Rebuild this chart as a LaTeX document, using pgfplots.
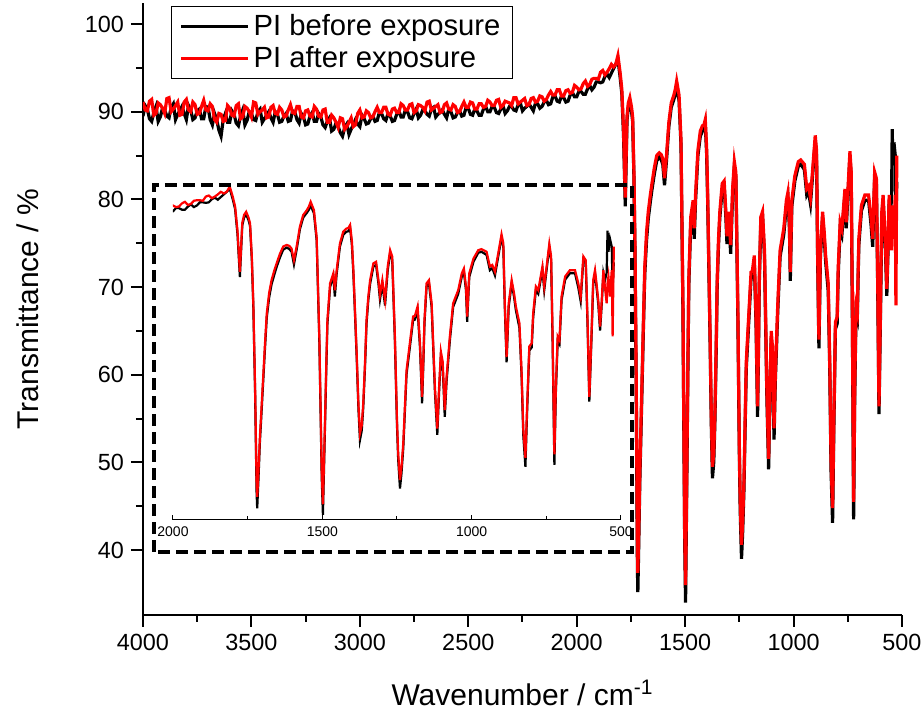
\documentclass[border=0pt]{standalone}
\usepackage{pgfplots}
\pgfplotsset{compat=1.18}
\usepackage{pgfplotstable}
\usepackage{fontspec}
\setmainfont{Liberation Sans}
\definecolor{spred}{RGB}{255,0,0}

% PI before exposure (black)
\pgfplotstableread{
nu T
4000 89.5
3990 90.7
3980 90.3
3970 89.2
3960 88.9
3950 89.9
3940 90.6
3930 88.9
3920 89.4
3910 90.4
3900 90.2
3890 89.5
3880 89.3
3870 90.5
3860 90.9
3850 89.1
3840 89.7
3830 90.1
3820 90.6
3810 89.8
3800 89.1
3790 90.7
3780 90.2
3770 89.1
3760 89.3
3750 90.1
3740 90.3
3730 89.2
3720 89.2
3710 90.6
3700 90.5
3690 89.1
3680 88.5
3670 89.8
3660 89.1
3650 87.9
3640 87.2
3630 89.1
3620 89.8
3610 88.8
3600 88.8
3590 90.1
3580 89.7
3570 88.7
3560 88.4
3550 89.5
3540 90.2
3530 88.5
3520 89.0
3510 90.0
3500 89.8
3490 89.1
3480 89.0
3470 90.0
3460 90.3
3450 88.8
3440 89.2
3430 89.6
3420 90.0
3410 89.3
3400 88.8
3390 90.0
3380 89.7
3370 88.8
3360 88.9
3350 89.5
3340 89.8
3330 88.9
3320 89.0
3310 90.1
3300 90.0
3290 89.1
3280 88.7
3270 89.8
3260 89.4
3250 88.5
3240 88.6
3230 89.5
3220 89.9
3210 88.9
3200 88.9
3190 89.8
3180 89.4
3170 88.5
3160 88.2
3150 88.9
3140 89.3
3130 87.8
3120 88.0
3110 88.7
3100 88.3
3090 87.6
3080 87.2
3070 88.2
3060 88.6
3050 87.4
3040 88.0
3030 88.5
3020 89.1
3010 88.6
3000 88.3
2990 89.6
2980 89.2
2970 88.6
2960 88.7
2950 89.2
2940 89.5
2930 88.9
2920 89.0
2910 89.9
2900 89.8
2890 89.2
2880 89.0
2870 89.8
2860 89.5
2850 88.9
2840 89.0
2830 89.7
2820 90.1
2810 89.4
2800 89.4
2790 90.2
2780 90.0
2770 89.3
2760 89.2
2750 89.8
2740 90.3
2730 89.3
2720 89.6
2710 90.2
2700 90.1
2690 89.7
2680 89.5
2670 90.3
2660 90.5
2650 89.4
2640 89.7
2630 89.9
2620 90.2
2610 89.7
2600 89.3
2590 90.3
2580 90.0
2570 89.3
2560 89.4
2550 89.9
2540 90.1
2530 89.5
2520 89.6
2510 90.5
2500 90.4
2490 89.7
2480 89.6
2470 90.3
2460 90.1
2450 89.6
2440 89.6
2430 90.3
2420 90.6
2410 90.0
2400 90.0
2390 90.6
2380 90.5
2370 89.9
2360 89.8
2350 90.3
2340 90.7
2330 89.8
2320 90.1
2310 90.6
2300 90.6
2290 90.2
2280 90.1
2270 90.8
2260 91.0
2250 90.1
2240 90.4
2230 90.6
2220 90.9
2210 90.5
2200 90.1
2190 91.0
2180 90.9
2170 90.4
2160 90.6
2150 91.1
2140 91.3
2130 90.8
2120 90.9
2110 91.7
2100 91.8
2090 91.2
2080 91.1
2070 91.8
2060 91.6
2050 91.1
2040 91.2
2030 91.9
2020 92.2
2010 91.7
2000 91.7
1990 92.3
1980 92.3
1970 92.0
1960 92.0
1950 92.6
1940 93.0
1930 92.5
1920 92.8
1910 93.4
1900 93.4
1890 93.3
1880 93.4
1870 94.0
1860 94.3
1850 93.9
1840 94.4
1830 94.9
1820 95.4
1810 96.0
1800 94.0
1792 92.1
1784 87.3
1776 79.2
1768 89.0
1762 90.5
1755 91.1
1747 90.0
1742 88.9
1736 82.4
1731 73.6
1725 57.0
1720 38.0
1718 35.2
1714 40.5
1709 47.8
1703 54.0
1698 59.3
1692 65.6
1686 71.5
1678 75.3
1670 77.8
1660 79.8
1653 81.1
1642 82.9
1631 84.4
1619 84.8
1610 84.5
1603 84.0
1595 81.6
1586 84.4
1575 88.3
1564 90.5
1552 91.4
1545 92.0
1539 92.8
1528 91.3
1519 86.2
1510 67.0
1502 41.0
1498 34.0
1494 43.5
1491 50.8
1487 61.0
1483 70.2
1474 77.3
1463 79.2
1458 75.5
1452 79.8
1441 85.0
1430 87.2
1420 87.8
1413 87.9
1407 88.5
1401 85.3
1396 79.8
1390 71.3
1385 64.0
1379 54.0
1374 48.2
1368 50.0
1363 54.3
1357 62.2
1352 70.3
1346 74.8
1340 77.9
1329 81.2
1320 81.5
1312 77.9
1307 74.9
1299 77.9
1290 73.8
1281 80.5
1273 83.7
1266 82.5
1257 67.0
1250 51.0
1246 44.5
1240 39.0
1235 41.8
1229 46.6
1224 53.0
1218 60.7
1207 65.8
1196 71.0
1190 71.1
1181 72.9
1173 65.8
1166 55.2
1162 62.1
1158 70.3
1151 77.4
1143 78.0
1134 73.5
1123 57.4
1115 49.2
1109 57.4
1103 64.2
1097 62.2
1090 52.6
1084 59.3
1073 67.1
1062 73.5
1045 76.0
1033 79.3
1026 80.2
1019 76.7
1015 70.7
1008 79.2
994 82.1
978 83.8
967 84.0
950 83.4
939 80.5
931 80.9
922 79.5
911 83.1
900 86.7
894 85.0
889 73.4
883 63.0
876 73.5
866 78.0
858 75.4
852 72.9
840 69.5
833 60.6
827 49.0
820 43.1
814 54.2
807 65.2
799 65.8
794 71.5
785 76.7
777 76.0
771 78.0
763 80.6
757 76.7
749 80.6
740 84.9
734 82.5
729 67.0
723 43.5
718 57.3
712 67.0
706 66.4
699 74.8
687 78.7
671 79.9
654 79.9
643 77.2
635 74.6
626 82.5
618 81.8
612 70.2
606 55.5
599 67.1
593 77.9
587 79.9
582 77.3
576 74.0
570 69.0
565 73.5
559 79.9
554 78.5
548 80.0
545 88.0
542 84.0
537 86.5
531 85.0
528 77.0
524 82.0
}\before

% PI after exposure (red)
\pgfplotstableread{
nu T
4000 91.1
3990 90.2
3980 90.1
3970 91.2
3960 91.4
3950 89.6
3940 89.8
3930 91.0
3920 90.8
3910 90.4
3900 89.8
3890 91.5
3880 91.6
3870 90.0
3860 90.3
3850 90.7
3840 91.1
3830 89.6
3820 89.7
3810 91.1
3800 91.4
3790 90.2
3780 90.0
3770 91.1
3760 90.8
3750 89.7
3740 89.8
3730 90.6
3720 91.3
3710 90.2
3700 90.1
3690 90.9
3680 90.6
3670 89.1
3660 88.8
3650 89.8
3640 89.7
3630 88.9
3620 89.0
3610 90.7
3600 90.4
3590 89.6
3580 89.5
3570 90.7
3560 90.9
3550 89.2
3540 89.4
3530 90.6
3520 90.4
3510 90.0
3500 89.4
3490 91.1
3480 91.0
3470 89.7
3460 90.0
3450 90.2
3440 90.5
3430 89.3
3420 89.4
3410 90.5
3400 90.7
3390 89.8
3380 89.7
3370 90.5
3360 90.2
3350 89.4
3340 89.5
3330 90.2
3320 90.8
3310 89.9
3300 89.8
3290 90.6
3280 90.6
3270 89.4
3260 89.3
3250 90.1
3240 90.2
3230 89.5
3220 89.4
3210 90.6
3200 90.3
3190 89.5
3180 89.4
3170 90.2
3160 90.3
3150 88.8
3140 88.8
3130 89.6
3120 89.3
3110 88.8
3100 88.2
3090 89.3
3080 89.2
3070 88.0
3060 88.3
3050 88.8
3040 89.3
3030 88.3
3020 88.5
3010 89.8
3000 90.2
2990 89.3
2980 89.4
2970 90.1
2960 89.9
2950 89.3
2940 89.4
2930 90.0
2920 90.5
2910 89.9
2900 89.9
2890 90.5
2880 90.5
2870 89.7
2860 89.6
2850 90.3
2840 90.4
2830 89.9
2820 89.9
2810 90.9
2800 90.7
2790 90.2
2780 90.2
2770 90.8
2760 90.9
2750 89.9
2740 90.1
2730 90.8
2720 90.7
2710 90.5
2700 90.1
2690 91.1
2680 91.2
2670 90.2
2660 90.4
2650 90.6
2640 90.8
2630 89.9
2620 90.0
2610 90.8
2600 91.0
2590 90.3
2580 90.2
2570 90.8
2560 90.6
2550 89.9
2540 90.0
2530 90.6
2520 91.1
2510 90.5
2500 90.5
2490 91.1
2480 91.0
2470 90.3
2460 90.3
2450 90.9
2440 90.9
2430 90.5
2420 90.6
2410 91.3
2400 91.1
2390 90.7
2380 90.7
2370 91.3
2360 91.4
2350 90.5
2340 90.7
2330 91.2
2320 91.1
2310 91.0
2300 90.7
2290 91.6
2280 91.6
2270 90.9
2260 91.1
2250 91.3
2240 91.5
2230 90.7
2220 90.8
2210 91.5
2200 91.6
2190 91.1
2180 91.2
2170 91.8
2160 91.7
2150 91.2
2140 91.4
2130 91.9
2120 92.3
2110 91.9
2100 91.9
2090 92.5
2080 92.5
2070 91.8
2060 91.8
2050 92.4
2040 92.5
2030 92.1
2020 92.2
2010 93.0
2000 92.8
1990 92.5
1980 92.6
1970 93.2
1960 93.5
1950 92.9
1940 93.1
1930 93.7
1920 93.8
1910 93.8
1900 93.7
1890 94.5
1880 94.7
1870 94.2
1860 94.5
1850 94.9
1840 95.4
1830 95.1
1820 95.4
1810 96.4
1800 94.5
1792 92.6
1784 88.0
1776 80.2
1768 89.5
1762 91.0
1755 91.6
1747 90.5
1742 89.4
1736 83.0
1731 74.2
1725 58.0
1720 40.0
1718 37.4
1714 42.0
1709 48.8
1703 55.0
1698 60.2
1692 66.5
1686 72.3
1678 76.2
1670 78.6
1660 80.6
1653 81.8
1642 83.6
1631 85.0
1619 85.3
1610 85.1
1603 84.6
1595 82.4
1586 85.0
1575 88.8
1564 91.0
1552 91.9
1545 92.6
1539 93.5
1528 91.9
1519 86.8
1510 67.8
1502 42.5
1498 36.0
1494 45.0
1491 52.0
1487 62.0
1483 71.0
1474 78.0
1463 79.9
1458 76.7
1452 80.5
1441 85.6
1430 87.8
1420 88.4
1413 88.5
1407 89.1
1401 86.0
1396 80.5
1390 72.0
1385 64.7
1379 55.0
1374 49.5
1368 51.0
1363 55.2
1357 63.0
1352 71.0
1346 75.5
1340 78.6
1329 81.8
1320 82.1
1312 78.6
1307 75.8
1299 78.6
1290 74.8
1281 81.2
1273 84.3
1266 83.1
1257 67.9
1250 52.0
1246 45.7
1240 40.6
1235 43.0
1229 47.6
1224 54.0
1218 61.5
1207 66.6
1196 71.7
1190 71.8
1181 73.6
1173 66.6
1166 56.4
1162 63.0
1158 71.0
1151 78.0
1143 78.6
1134 74.2
1123 58.3
1115 50.4
1109 58.3
1103 65.0
1097 63.1
1090 53.9
1084 60.2
1073 67.9
1062 74.2
1045 76.7
1033 79.9
1026 80.8
1019 77.4
1015 71.7
1008 79.9
994 82.7
978 84.3
967 84.5
950 84.0
939 81.2
931 81.5
922 80.2
911 83.7
900 87.3
894 85.6
889 74.2
883 64.0
876 74.2
866 78.6
858 76.1
852 73.6
840 70.4
833 61.5
827 50.1
820 44.8
814 55.2
807 66.0
799 66.6
794 72.3
785 77.4
777 76.7
771 78.6
763 81.2
757 77.4
749 81.2
740 85.5
734 83.1
729 67.9
723 45.5
718 58.3
712 67.9
706 67.2
699 75.5
687 79.3
671 80.5
654 80.5
643 78.0
635 75.5
626 83.1
618 82.4
612 71.0
606 56.4
599 67.9
593 78.6
587 80.5
582 78.0
576 74.8
570 69.8
565 74.2
559 80.5
554 77.4
548 74.2
545 78.0
542 79.3
537 75.5
531 80.5
528 67.9
524 85.0
}\after

\begin{document}
\begin{tikzpicture}
\useasboundingbox (-71.5pt,-48.5pt) rectangle (390pt,307.5pt);
\begin{axis}[
  at={(0pt,0pt)}, anchor=south west,
  scale only axis, width=379.5pt, height=306pt,
  x dir=reverse, xmin=500, xmax=4000, ymin=32.6, ymax=102.4,
  axis x line=bottom, axis y line=left,
  axis line style={-, line width=1pt},
  tick align=outside, major tick length=6pt, minor tick length=3.5pt,
  every tick/.style={line width=1pt, black},
  xtick={500,1000,...,4000}, minor x tick num=1,
  ytick={40,50,...,100}, minor y tick num=1,
  /pgf/number format/assume math mode=true,
  /pgf/number format/1000 sep={},
  tick label style={font=\fontsize{11.7}{13}\selectfont},
  xlabel={Wavenumber / cm\textsuperscript{-1}},
  xlabel style={font=\fontsize{15}{17}\selectfont, at={(axis description cs:0.5,-0.127)}, anchor=center},
  ylabel={Transmittance / \%},
  ylabel style={font=\fontsize{15}{17}\selectfont, at={(axis description cs:-0.1515,0.5)}, anchor=center},
  legend style={at={(axis description cs:0.0369,0.995)}, anchor=north west, draw=black, line width=0.5pt,
    font=\fontsize{14.6}{17}\selectfont, inner xsep=4pt, inner ysep=2pt, row sep=0pt, cells={anchor=west}},
  legend image code/.code={\draw[#1] (0pt,0pt) -- (33.5pt,0pt);},
]
\addplot[black, line width=1.6pt] table[x=nu,y=T] {\before};
\addlegendentry{PI before exposure}
\addplot[spred, line width=1.6pt] table[x=nu,y=T] {\after};
\addlegendentry{PI after exposure}
\end{axis}
\begin{axis}[
  at={(15pt,47.5pt)}, anchor=south west,
  scale only axis, width=224pt, height=167.5pt,
  x dir=reverse, xmin=500, xmax=2000, ymin=33, ymax=96.7,
  axis x line=bottom, hide y axis,
  axis line style={-, line width=0.5pt},
  tick align=inside, major tick length=2.5pt, minor tick length=2pt,
  every tick/.style={line width=0.5pt, black},
  xtick={500,1000,1500,2000}, minor x tick num=1,
  /pgf/number format/assume math mode=true,
  /pgf/number format/1000 sep={},
  tick label style={font=\fontsize{7}{8}\selectfont},
  clip=true,
]
\addplot[black, line width=1.1pt] table[x=nu,y=T] {\before};
\addplot[spred, line width=1.1pt] table[x=nu,y=T] {\after};
\end{axis}
\draw[line width=1.7pt, dash pattern=on 6pt off 3pt] (5.5pt,31.5pt) rectangle (244.5pt,215pt);
\end{tikzpicture}
\end{document}
